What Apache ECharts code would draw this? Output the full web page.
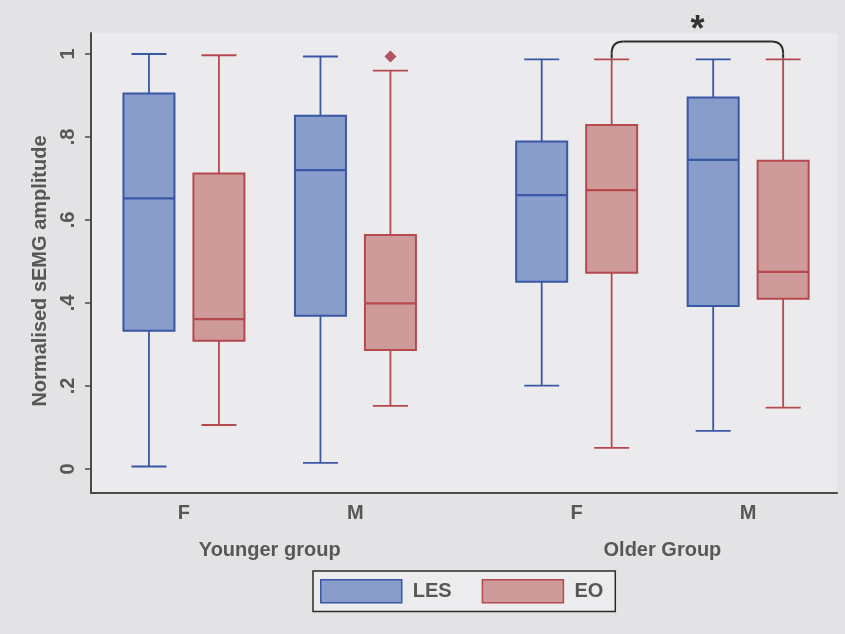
<!DOCTYPE html>
<html>
<head>
<meta charset="utf-8">
<script src="https://cdn.jsdelivr.net/npm/echarts@6/dist/echarts.min.js"></script>
<style>
  html, body { margin: 0; padding: 0; background: #e3e3e5; }
  #chart { width: 845px; height: 634px; }
</style>
</head>
<body>
<div id="chart"></div>
<script>
// Categories: sex within each age group
const groups = ['Younger group', 'Older Group'];
const sexes = ['F', 'M'];

// Box statistics per cell: [lower whisker, Q1, median, Q3, upper whisker]
// order: Younger F, Younger M, Older F, Older M
const lesStats = [
  [0.006, 0.333, 0.652, 0.905, 1.000],
  [0.015, 0.369, 0.720, 0.851, 0.994],
  [0.201, 0.451, 0.660, 0.789, 0.987],
  [0.092, 0.393, 0.745, 0.895, 0.987]
];
const eoStats = [
  [0.106, 0.309, 0.361, 0.712, 0.997],
  [0.152, 0.287, 0.399, 0.564, 0.960],
  [0.051, 0.473, 0.672, 0.829, 0.987],
  [0.148, 0.410, 0.475, 0.743, 0.987]
];
// Outlying values: [cell index, value]
const eoOutliers = [[1, 0.994]];

// Y axis ticks
const yTicks = [0, 0.2, 0.4, 0.6, 0.8, 1];

// ---- layout on the category scale ----
const PAIR_GAP = 0.29;   // extra space between age groups
const HALF = 0.204;      // offset of each box from its cell centre
function cellCentre(i) {
  const g = Math.floor(i / 2), s = i % 2;
  return 1 + g * (2 + PAIR_GAP) + s;
}
const cellCentres = [0, 1, 2, 3].map(cellCentre);
const groupCentres = [0, 1].map(g => (cellCentre(2 * g) + cellCentre(2 * g + 1)) / 2);
const X_MIN = 0.458, X_MAX = 4.808;

const BLUE_FILL = '#899dcb', BLUE_LINE = '#3a57a6';
const RED_FILL = '#cf9a9a', RED_LINE = '#b4494e';
const TEXT = '#575757';
const FONT = 'Liberation Sans, Arial, sans-serif';

const BOX_W = 51, CAP_W = 35;

function boxRenderer(lineColor, fillColor) {
  return function (params, api) {
    const x = api.value(0);
    const lo = api.coord([x, api.value(1)]);
    const q1 = api.coord([x, api.value(2)]);
    const md = api.coord([x, api.value(3)]);
    const q3 = api.coord([x, api.value(4)]);
    const hi = api.coord([x, api.value(5)]);
    const cx = lo[0];
    const ls = { stroke: lineColor, lineWidth: 1.8 };
    return {
      type: 'group',
      children: [
        { type: 'line', shape: { x1: cx, y1: hi[1], x2: cx, y2: q3[1] }, style: ls },
        { type: 'line', shape: { x1: cx, y1: q1[1], x2: cx, y2: lo[1] }, style: ls },
        { type: 'line', shape: { x1: cx - CAP_W / 2, y1: hi[1], x2: cx + CAP_W / 2, y2: hi[1] }, style: ls },
        { type: 'line', shape: { x1: cx - CAP_W / 2, y1: lo[1], x2: cx + CAP_W / 2, y2: lo[1] }, style: ls },
        { type: 'rect', shape: { x: cx - BOX_W / 2, y: q3[1], width: BOX_W, height: q1[1] - q3[1] },
          style: { fill: fillColor, stroke: lineColor, lineWidth: 2 } },
        { type: 'line', shape: { x1: cx - BOX_W / 2, y1: md[1], x2: cx + BOX_W / 2, y2: md[1] },
          style: { stroke: lineColor, lineWidth: 2.2 } }
      ]
    };
  };
}

const lesData = lesStats.map((s, i) => [cellCentre(i) - HALF].concat(s));
const eoData = eoStats.map((s, i) => [cellCentre(i) + HALF].concat(s));
const outlierData = eoOutliers.map(o => [cellCentre(o[0]) + HALF, o[1]]);

// significance bracket between older F and older M (EO)
const bracketData = [[cellCentre(2) + HALF, cellCentre(3) + HALF, Math.max(eoStats[2][4], eoStats[3][4]), 1.03]];

function bracketRenderer(params, api) {
  const l = api.coord([api.value(0), api.value(2)]);
  const r = api.coord([api.value(1), api.value(2)]);
  const top = api.coord([api.value(0), api.value(3)])[1];
  const yEnd = l[1] - 1;
  const rad = 12;
  const st = { stroke: '#2e2e2e', lineWidth: 2, fill: null };
  return {
    type: 'group',
    children: [
      { type: 'line', shape: { x1: l[0], y1: yEnd, x2: l[0], y2: top + rad }, style: st },
      { type: 'bezierCurve', shape: { x1: l[0], y1: top + rad, cpx1: l[0], cpy1: top, x2: l[0] + rad, y2: top }, style: st },
      { type: 'line', shape: { x1: l[0] + rad, y1: top, x2: r[0] - rad, y2: top }, style: st },
      { type: 'bezierCurve', shape: { x1: r[0] - rad, y1: top, cpx1: r[0], cpy1: top, x2: r[0], y2: top + rad }, style: st },
      { type: 'line', shape: { x1: r[0], y1: top + rad, x2: r[0], y2: yEnd }, style: st },
      { type: 'text', style: { text: '*', x: (l[0] + r[0]) / 2, y: top - 10,
          textAlign: 'center', textVerticalAlign: 'middle',
          font: 'bold 36px ' + FONT, fill: '#333333' } }
    ]
  };
}

function nearestLabel(v, centres, names) {
  for (let i = 0; i < centres.length; i++) {
    if (Math.abs(v - centres[i]) < 1e-6) return names[i];
  }
  return '';
}

const chart = echarts.init(document.getElementById('chart'), null, { renderer: 'canvas' });
chart.setOption({
  backgroundColor: '#e3e3e5',
  animation: false,
  textStyle: { fontFamily: FONT },
  grid: {
    left: 91, top: 33, width: 746, height: 460,
    show: true, backgroundColor: '#ebebee', borderWidth: 0
  },
  legend: {
    left: 313, top: 571,
    itemWidth: 81, itemHeight: 23, itemGap: 30,
    padding: [8, 12, 8, 7],
    borderColor: '#2a2a2a', borderWidth: 1.5,
    backgroundColor: '#ececee',
    selectedMode: false,
    textStyle: { fontSize: 20, fontWeight: 'bold', color: TEXT, fontFamily: FONT, padding: [0, 0, 0, 6] },
    data: [
      { name: 'LES', icon: 'rect', itemStyle: { color: BLUE_FILL, borderColor: BLUE_LINE, borderWidth: 1.5 } },
      { name: 'EO', icon: 'rect', itemStyle: { color: RED_FILL, borderColor: RED_LINE, borderWidth: 1.5 } }
    ]
  },
  xAxis: [
    {
      type: 'value', min: X_MIN, max: X_MAX, position: 'bottom',
      axisLine: { show: true, onZero: false, lineStyle: { color: '#4a4a4a', width: 2 } },
      axisTick: { show: false },
      splitLine: { show: false },
      axisLabel: {
        customValues: cellCentres,
        margin: 10,
        fontSize: 20, fontWeight: 'bold', color: TEXT, fontFamily: FONT,
        formatter: v => nearestLabel(v, cellCentres, cellCentres.map((c, i) => sexes[i % 2]))
      }
    },
    {
      type: 'value', min: X_MIN, max: X_MAX, position: 'bottom', offset: 0,
      axisLine: { show: false, onZero: false }, axisTick: { show: false }, splitLine: { show: false },
      axisLabel: {
        customValues: groupCentres,
        margin: 47,
        fontSize: 20, fontWeight: 'bold', color: TEXT, fontFamily: FONT,
        formatter: v => nearestLabel(v, groupCentres, groups)
      }
    }
  ],
  yAxis: {
    type: 'value', min: -0.0578, max: 1.0506,
    name: 'Normalised sEMG amplitude',
    nameLocation: 'middle', nameGap: 39,
    nameTextStyle: { fontSize: 20, fontWeight: 'bold', color: TEXT, fontFamily: FONT, padding: [0, 16, 0, 0] },
    axisLine: { show: true, onZero: false, lineStyle: { color: '#4a4a4a', width: 2 } },
    axisTick: { show: true, customValues: yTicks, length: 6, lineStyle: { color: '#4a4a4a', width: 1.5 } },
    splitLine: { show: false },
    axisLabel: {
      customValues: yTicks,
      rotate: 90, margin: 13,
      fontSize: 20, fontWeight: 'bold', color: TEXT, fontFamily: FONT,
      formatter: v => (v === 0 ? '0' : v === 1 ? '1' : String(v).replace(/^0/, ''))
    }
  },
  series: [
    {
      name: 'LES', type: 'custom', xAxisIndex: 0,
      itemStyle: { color: BLUE_FILL },
      renderItem: boxRenderer(BLUE_LINE, BLUE_FILL),
      encode: { x: 0, y: [1, 2, 3, 4, 5] },
      data: lesData
    },
    {
      name: 'EO', type: 'custom', xAxisIndex: 0,
      itemStyle: { color: RED_FILL },
      renderItem: boxRenderer(RED_LINE, RED_FILL),
      encode: { x: 0, y: [1, 2, 3, 4, 5] },
      data: eoData
    },
    {
      name: 'EO outliers', type: 'scatter', xAxisIndex: 0,
      symbol: 'diamond', symbolSize: 12,
      itemStyle: { color: '#a5303d' },
      data: outlierData
    },
    {
      name: 'significance', type: 'custom', xAxisIndex: 0, clip: false,
      renderItem: bracketRenderer,
      encode: { x: [0, 1], y: [2, 3] },
      data: bracketData
    }
  ]
});
</script>
</body>
</html>
